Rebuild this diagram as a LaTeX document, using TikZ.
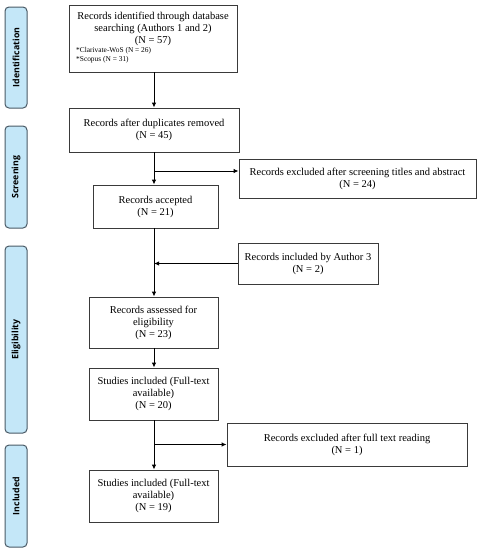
\documentclass[tikz,border=0pt]{standalone}
\usepackage{fontspec}
\setmainfont{Liberation Serif}
\newfontfamily\sidefont{Open Sans}
\usetikzlibrary{arrows.meta}
\definecolor{boxgray}{HTML}{3A3A3A}
\definecolor{sidefill}{HTML}{C4E7F8}
\definecolor{sidedraw}{HTML}{4A5A66}
\newcommand{\mainfs}{\fontsize{10.5}{12}\selectfont}
\newcommand{\smallfs}{\fontsize{7.4}{9}\selectfont}
\tikzset{
  box/.style={draw=boxgray, line width=0.8pt, align=center, font=\mainfs, inner sep=0pt},
  arr/.style={-{Latex[length=5pt,width=4.5pt]}, line width=1pt},
  side/.style={draw=sidedraw, fill=sidefill, line width=1pt, rounded corners=4pt, minimum width=22pt, inner sep=0pt},
  sidetxt/.style={rotate=90, font=\sidefont\bfseries\fontsize{8.8}{11}\selectfont}
}
\begin{document}
\begin{tikzpicture}[x=1pt,y=-1pt]
\useasboundingbox (0,0) rectangle (481,550);
% side bars
\node[side, minimum height=101pt] (sid) at (16,57.5) {};
\node[sidetxt] (sidt) at (sid.center) {Identification};
\node[side, minimum height=102pt] (sscr) at (16,177) {};
\node[sidetxt] (sscrt) at (sscr.center) {Screening};
\node[side, minimum height=187pt] (sel) at (16,339.5) {};
\node[sidetxt] (selt) at (sel.center) {Eligibility};
\node[side, minimum height=102pt] (sinc) at (16,496) {};
\node[sidetxt] (sinct) at (sinc.center) {Included};
% boxes
\node[box, minimum width=168pt, minimum height=67pt] (b1) at (153,38.5) {};
\node[font=\mainfs, align=center, inner sep=0pt] (b1t) at (153,28.5) {Records identified through database\\searching (Authors 1 and 2)\\(N = 57)};
\node[font=\smallfs, align=left, anchor=west, inner sep=0pt] (b1s) at (76,55.5) {*Clarivate-WoS (N = 26)\\*Scopus (N = 31)};
\node[box, minimum width=170pt, minimum height=44pt] (b2) at (154,130) {Records after duplicates removed\\(N = 45)};
\node[box, minimum width=237pt, minimum height=39pt] (ex1) at (357.5,178.5) {Records excluded after screening titles and abstract\\(N = 24)};
\node[box, minimum width=125pt, minimum height=43pt] (b3) at (155.5,206.5) {Records accepted\\(N = 21)};
\node[box, minimum width=140pt, minimum height=41pt] (in3) at (308,263.5) {Records included by Author 3\\(N = 2)};
\node[box, minimum width=129pt, minimum height=51pt] (b4) at (153.5,322.5) {Records assessed for\\eligibility\\(N = 23)};
\node[box, minimum width=129pt, minimum height=52pt] (b5) at (153.5,394) {Studies included (Full-text\\available)\\(N = 20)};
\node[box, minimum width=240pt, minimum height=43pt] (ex2) at (347,444.5) {Records excluded after full text reading\\(N = 1)};
\node[box, minimum width=129pt, minimum height=52pt] (b6) at (153.5,496) {Studies included (Full-text\\available)\\(N = 19)};
% connectors
\coordinate (j1) at (154,171);
\coordinate (j2) at (154,263.5);
\coordinate (j3) at (154,444.5);
\draw[arr] (b1.south -| j1) -- (b2.north -| j1);
\draw[arr] (b2.south -| j1) -- (b3.north -| j1);
\draw[arr] (j1) -- (ex1.west |- j1);
\draw[arr] (b3.south -| j2) -- (b4.north -| j2);
\draw[arr] (in3.west) -- (j2);
\draw[arr] (b4.south -| j2) -- (b5.north -| j2);
\draw[arr] (b5.south -| j3) -- (b6.north -| j3);
\draw[arr] (j3) -- (ex2.west);
\end{tikzpicture}
\end{document}
